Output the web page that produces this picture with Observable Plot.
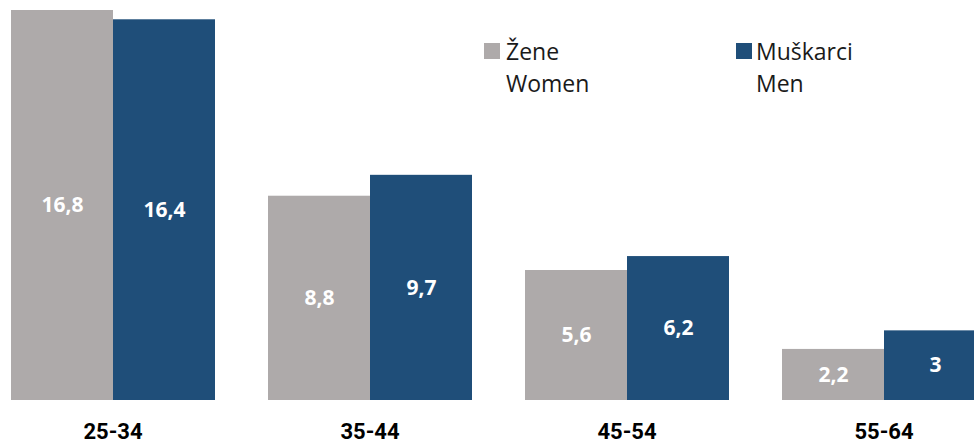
<!DOCTYPE html>
<html>
<head>
<meta charset="utf-8">
<script src="https://cdn.jsdelivr.net/npm/d3@7"></script>
<script src="https://cdn.jsdelivr.net/npm/@observablehq/plot@0.6"></script>
<style>
  html, body { margin: 0; padding: 0; background: #fff; overflow: hidden; }
  #wrap { position: relative; width: 974px; height: 443px; overflow: hidden; }
  #wrap svg { max-width: none !important; }
  .leg { position: absolute; font-family: "Open Sans", sans-serif; font-size: 23px; line-height: 32px; color: #1a1a1a; }
  .sw { position: absolute; width: 16px; height: 16px; }
</style>
</head>
<body>
<div id="wrap"></div>
<script>
const ageGroups = ["25-34", "35-44", "45-54", "55-64"];
const seriesKeys = ["Žene", "Muškarci"];
const seriesLabels = [["Žene", "Women"], ["Muškarci", "Men"]];
const women = [16.8, 8.8, 5.6, 2.2];
const men = [16.4, 9.7, 6.2, 3];
const colors = ["#AEAAAA", "#1F4E79"];

const data = [];
ageGroups.forEach((g, i) => {
  data.push({age: g, sex: seriesKeys[0], value: women[i]});
  data.push({age: g, sex: seriesKeys[1], value: men[i]});
});
const fmt = v => String(v).replace(".", ",");

const chart = Plot.plot({
  width: 986,
  height: 443,
  marginLeft: 10,
  marginRight: 0,
  marginTop: 10,
  marginBottom: 43,
  style: {background: "#fff", overflow: "hidden", maxWidth: "none"},
  fx: {domain: ageGroups, paddingInner: 52 / 257, paddingOuter: 0, label: null},
  x: {domain: seriesKeys, padding: 0, axis: null},
  y: {domain: [0, 16.8], axis: null},
  color: {domain: seriesKeys, range: colors},
  marks: [
    Plot.barY(data, {fx: "age", x: "sex", y: "value", fill: "sex"}),
    Plot.text(data, {
      fx: "age", x: "sex", y: d => d.value / 2, text: d => fmt(d.value),
      fill: "#fff", fontSize: 21, fontWeight: "bold", fontFamily: "Open Sans"
    }),
    Plot.axisFx({
      anchor: "bottom",
      tickSize: 0, tickPadding: 23, fontSize: 22, fontWeight: "bold",
      fontFamily: "Roboto, sans-serif",
      fill: "#000", label: null
    })
  ]
});
const wrap = document.getElementById("wrap");
wrap.appendChild(chart);

const legendPos = [{sx: 484, tx: 506}, {sx: 736, tx: 756}];
seriesLabels.forEach((lab, i) => {
  const sw = document.createElement("div");
  sw.className = "sw";
  sw.style.left = legendPos[i].sx + "px";
  sw.style.top = "43px";
  sw.style.background = colors[i];
  wrap.appendChild(sw);
  const t = document.createElement("div");
  t.className = "leg";
  t.style.left = legendPos[i].tx + "px";
  t.style.top = "35px";
  t.innerHTML = lab[0] + "<br>" + lab[1];
  wrap.appendChild(t);
});
</script>
</body>
</html>
